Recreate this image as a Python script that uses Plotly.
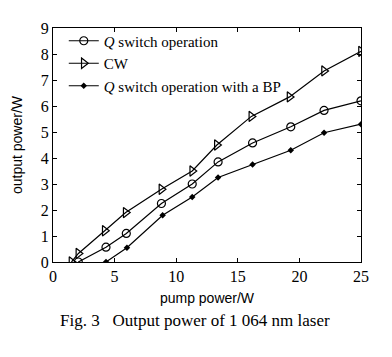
import plotly.graph_objects as go

pump_q = [2.05, 4.3, 5.95, 8.8, 11.3, 13.4, 16.2, 19.3, 22.0, 25.0]
power_q = [0.0, 0.57, 1.1, 2.25, 3.0, 3.85, 4.58, 5.2, 5.83, 6.2]

pump_cw = [1.5, 2.06, 4.2, 5.9, 8.8, 11.3, 13.3, 16.1, 19.2, 22.0, 25.0]
power_cw = [0.0, 0.33, 1.2, 1.9, 2.8, 3.5, 4.5, 5.6, 6.35, 7.35, 8.1]

pump_bp = [4.3, 6.0, 8.9, 11.3, 13.4, 16.2, 19.3, 22.0, 25.0]
power_bp = [0.0, 0.55, 1.8, 2.5, 3.25, 3.75, 4.3, 4.97, 5.3]

x_ticks = [0, 5, 10, 15, 20, 25]
y_ticks = [0, 1, 2, 3, 4, 5, 6, 7, 8, 9]

serif = "Liberation Serif, Times New Roman, serif"
sans = "Liberation Sans, Arial, sans-serif"

fig = go.Figure()
fig.add_trace(go.Scatter(
    x=pump_q, y=power_q, mode="lines+markers",
    name="<i>Q</i> switch operation",
    line=dict(color="black", width=1.2),
    marker=dict(symbol="circle-open", size=8, color="black", line=dict(width=1.2)),
))
fig.add_trace(go.Scatter(
    x=pump_cw, y=power_cw, mode="lines+markers",
    name="CW",
    line=dict(color="black", width=1.2),
    marker=dict(symbol="triangle-right-open", size=9, color="black", line=dict(width=1.2)),
))
fig.add_trace(go.Scatter(
    x=pump_bp, y=power_bp, mode="lines+markers",
    name="<i>Q</i> switch operation with a BP",
    line=dict(color="black", width=1.2),
    marker=dict(symbol="diamond", size=5, color="black"),
))

axis_common = dict(
    showline=True, linecolor="black", linewidth=1, mirror="ticks",
    ticks="inside", ticklen=4, tickcolor="black", tickwidth=1,
    showgrid=False, zeroline=False,
    tickfont=dict(family=serif, size=16, color="black"),
)

fig.update_xaxes(range=[0, 25], tickvals=x_ticks,
                 title=dict(text="pump power/W", font=dict(family=sans, size=14, color="black"), standoff=8),
                 **axis_common)
fig.update_yaxes(range=[0, 9], tickvals=y_ticks,
                 title=dict(text="output power/W", font=dict(family=sans, size=14, color="black"), standoff=14),
                 **axis_common)

fig.add_annotation(
    text="Fig. 3   Output power of 1 064 nm laser",
    xref="paper", yref="paper", x=0.46, y=-0.25,
    xanchor="center", yanchor="middle", showarrow=False,
    font=dict(family=serif, size=17, color="black"),
)

fig.update_layout(
    width=392, height=357,
    margin=dict(l=53, r=31, t=28, b=95),
    paper_bgcolor="white", plot_bgcolor="white",
    font=dict(family=serif, color="black"),
    showlegend=True,
    legend=dict(x=0.035, y=1.015, xanchor="left", yanchor="top",
                bgcolor="rgba(0,0,0,0)", borderwidth=0,
                font=dict(family=serif, size=15, color="black"),
                tracegroupgap=0, itemwidth=30),
)

fig.write_html("out.html")
